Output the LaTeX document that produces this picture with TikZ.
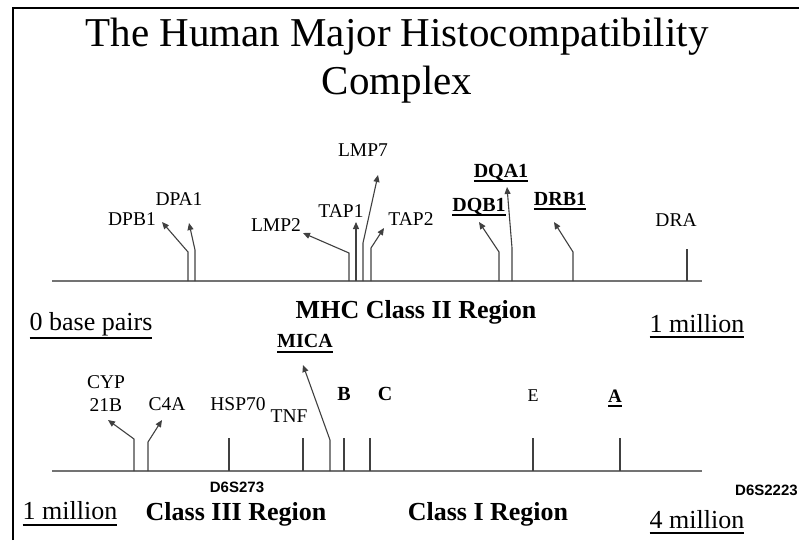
\documentclass[tikz,border=0pt]{standalone}
\usepackage{fontspec}
\setmainfont{Liberation Serif}
\newfontfamily\markerfont{Liberation Sans}
\usetikzlibrary{arrows.meta}
% underline with a fixed drop and a heavier rule
\newcommand{\barred}[2][4pt]{\leavevmode\setbox0\hbox{#2}\dp0=0pt\vtop{\box0\kern#1\hrule height 1.5pt}}

\begin{document}
\begin{tikzpicture}[x=1pt,y=-1pt,
  gene/.style={font=\fontsize{19.5}{23}\selectfont,inner sep=0pt,anchor=base},
  keygene/.style={gene,font=\fontsize{20}{23}\selectfont\bfseries},
  region/.style={font=\fontsize{26}{30}\selectfont\bfseries,inner sep=0pt,anchor=base},
  scalemark/.style={font=\fontsize{26}{30}\selectfont,inner sep=0pt,anchor=base},
  marker/.style={font=\markerfont\bfseries\fontsize{15}{17}\selectfont,inner sep=0pt,anchor=base},
  axis/.style={draw=black!55,line width=2pt},
  stem/.style={draw=black!75,line width=1.1pt},
  pointer/.style={stem,-{Triangle[length=7pt,width=6pt]}}]
  \useasboundingbox (0,0) rectangle (799,540);
  % frame
  \coordinate (fl) at (13,540);
  \coordinate (fc) at (13,8);
  \coordinate (fr) at (799,8);
  \draw[line width=2pt] (fl) -- (fc) -- (fr);
  % title
  \node (title) at (397,47) [anchor=base,inner sep=0pt,font=\fontsize{41}{48}\selectfont] {The Human Major Histocompatibility};
  \node (title2) at (397,95) [anchor=base,inner sep=0pt,font=\fontsize{41}{48}\selectfont] {Complex};

  % class II axis
  \coordinate (u0) at (52,281);
  \coordinate (u1) at (702,281);
  \draw[axis] (u0) -- (u1);
  \coordinate (dpb1b) at (188,281); \coordinate (dpb1t) at (188,252); \coordinate (dpb1p) at (162,222);
  \coordinate (dpa1b) at (195,281); \coordinate (dpa1t) at (195,250); \coordinate (dpa1p) at (189,223);
  \coordinate (lmp2b) at (349,281); \coordinate (lmp2t) at (349,253); \coordinate (lmp2p) at (303,233);
  \coordinate (tap1b) at (356,281); \coordinate (tap1p) at (356,222);
  \coordinate (lmp7b) at (363,281); \coordinate (lmp7t) at (363,243); \coordinate (lmp7p) at (378,175);
  \coordinate (tap2b) at (371,281); \coordinate (tap2t) at (371,248); \coordinate (tap2p) at (384,228);
  \coordinate (dqb1b) at (499,281); \coordinate (dqb1t) at (499,252); \coordinate (dqb1p) at (479,222);
  \coordinate (dqa1b) at (512,281); \coordinate (dqa1t) at (512,248); \coordinate (dqa1p) at (507,187);
  \coordinate (drb1b) at (573,281); \coordinate (drb1t) at (573,252); \coordinate (drb1p) at (554,222);
  \coordinate (drab) at (687,281); \coordinate (drat) at (687,249);
  \draw[pointer] (dpb1b) -- (dpb1t) -- (dpb1p);
  \draw[pointer] (dpa1b) -- (dpa1t) -- (dpa1p);
  \draw[pointer] (lmp2b) -- (lmp2t) -- (lmp2p);
  \draw[pointer] (tap1b) -- (tap1p);
  \draw[pointer] (lmp7b) -- (lmp7t) -- (lmp7p);
  \draw[pointer] (tap2b) -- (tap2t) -- (tap2p);
  \draw[pointer] (dqb1b) -- (dqb1t) -- (dqb1p);
  \draw[pointer] (dqa1b) -- (dqa1t) -- (dqa1p);
  \draw[pointer] (drb1b) -- (drb1t) -- (drb1p);
  \draw[stem] (drab) -- (drat);
  \node (dpb1) at (132,225) [gene] {DPB1};
  \node (dpa1) at (179,205) [gene] {DPA1};
  \node (lmp2) at (276,231) [gene] {LMP2};
  \node (tap1) at (341,217) [gene] {TAP1};
  \node (lmp7) at (363,157) [gene] {LMP7};
  \node (tap2) at (411,225) [gene] {TAP2};
  \node (dqb1) at (479,211) [keygene] {\barred[3pt]{DQB1}};
  \node (dqa1) at (501,177) [keygene] {\barred[3pt]{DQA1}};
  \node (drb1) at (560,205) [keygene] {\barred[3pt]{DRB1}};
  \node (dra) at (676,226) [gene] {DRA};

  % middle labels
  \node (classii) at (416,318) [region] {MHC Class II Region};
  \node (zero) at (91,330) [scalemark] {\barred[7pt]{0 base pairs}};
  \node (onemil) at (697,332) [scalemark] {\barred{1 million}};
  \node (mica) at (305,347) [keygene] {\barred[4pt]{MICA}};

  % class III / class I axis
  \coordinate (l0) at (52,471);
  \coordinate (l1) at (702,471);
  \draw[axis,line width=1.6pt] (l0) -- (l1);
  \coordinate (cypb) at (134,471); \coordinate (cypt) at (134,439); \coordinate (cypp) at (108,420);
  \coordinate (c4ab) at (148,471); \coordinate (c4at) at (148,442); \coordinate (c4ap) at (162,420);
  \coordinate (hspb) at (229,471); \coordinate (hspt) at (229,438);
  \coordinate (tnfb) at (303,471); \coordinate (tnft) at (303,438);
  \coordinate (micab) at (330,471); \coordinate (micat) at (330,440); \coordinate (micap) at (303,365);
  \coordinate (bb) at (344,471); \coordinate (bt) at (344,438);
  \coordinate (cb) at (370,471); \coordinate (ct) at (370,438);
  \coordinate (eb) at (533,471); \coordinate (et) at (533,438);
  \coordinate (ab) at (620,471); \coordinate (at) at (620,438);
  \draw[pointer] (cypb) -- (cypt) -- (cypp);
  \draw[pointer] (c4ab) -- (c4at) -- (c4ap);
  \draw[stem] (hspb) -- (hspt);
  \draw[stem] (tnfb) -- (tnft);
  \draw[pointer] (micab) -- (micat) -- (micap);
  \draw[stem] (bb) -- (bt);
  \draw[stem] (cb) -- (ct);
  \draw[stem] (eb) -- (et);
  \draw[stem] (ab) -- (at);
  \node (cyp) at (106,411) [gene,align=center] {CYP\\21B};
  \node (c4a) at (167,410) [gene] {C4A};
  \node (hsp70) at (238,410) [gene] {HSP70};
  \node (tnf) at (289,422) [gene] {TNF};
  \node (b) at (344,400) [gene,font=\fontsize{20}{23}\selectfont\bfseries] {B};
  \node (c) at (385,400) [gene,font=\fontsize{20}{23}\selectfont\bfseries] {C};
  \node (e) at (533,401) [gene,font=\fontsize{18}{21}\selectfont] {E};
  \node (a) at (615,402) [keygene,font=\fontsize{19}{21}\selectfont\bfseries] {\barred[3pt]{A}};

  % bottom labels
  \node (d6s273) at (237,492) [marker] {D6S273};
  \node (d6s2223) at (735,495) [marker,anchor=base west] {D6S2223};
  \node (onemilb) at (70,519) [scalemark] {\barred[5pt]{1 million}};
  \node (classiii) at (236,520) [region] {Class III Region};
  \node (classi) at (488,520) [region] {Class I Region};
  \node (fourmil) at (697,528) [scalemark] {\barred{4 million}};
\end{tikzpicture}
\end{document}
